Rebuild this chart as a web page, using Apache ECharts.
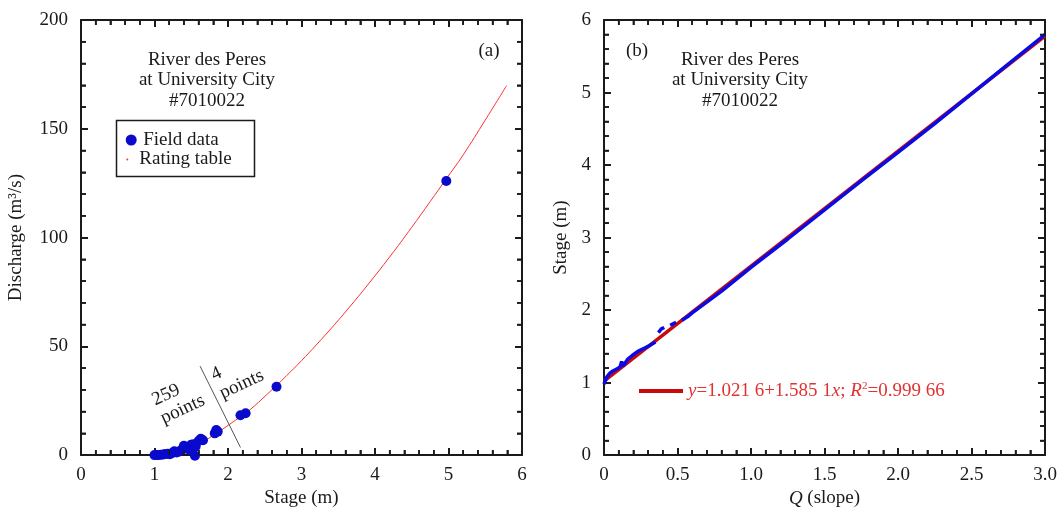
<!DOCTYPE html>
<html>
<head>
<meta charset="utf-8">
<script src="https://cdn.jsdelivr.net/npm/echarts/dist/echarts.min.js"></script>
<style>
  html, body { margin: 0; padding: 0; background: #fff; }
  #chart { width: 1060px; height: 513px; }
</style>
</head>
<body>
<div id="chart"></div>
<script>
// (a) field measurements: stage (m) vs discharge (m3/s)
var fieldStage = [1.00, 1.03, 1.06, 1.09, 1.12, 1.15, 1.18, 1.21, 1.24, 1.27, 1.30, 1.33, 1.36, 1.40, 1.42, 1.45,
                  1.48, 1.50, 1.53, 1.55, 1.56, 1.60, 1.63, 1.66, 1.82, 1.84, 1.86, 2.17, 2.24, 2.66, 4.97];
var fieldQ     = [0.0, 0.0, 0.1, 0.2, 0.3, 0.5, 0.6, 0.4, 1.0, 1.8, 1.2, 1.5, 2.2, 4.3, 3.0, 3.6,
                  2.4, 4.8, 5.0, -0.3, 4.0, 6.5, 7.5, 6.8, 10.0, 11.5, 10.8, 18.3, 19.2, 31.4, 126.0];
// (a) rating table
var ratingStage = [1.00, 1.10, 1.20, 1.30, 1.40, 1.50, 1.60, 1.75, 1.93, 2.10, 2.29, 2.54, 2.80, 3.00,
                   3.20, 3.45, 3.65, 3.90, 4.20, 4.50, 4.75, 4.97, 5.20, 5.50, 5.79];
var ratingQ     = [0.0, -0.3, 0.0, 0.8, 1.9, 3.3, 5.0, 8.0, 12.0, 16.0, 20.6, 28.2, 36.6, 43.4,
                   50.6, 60.0, 67.9, 78.2, 91.1, 104.7, 116.5, 127.0, 138.0, 154.0, 169.8];
// (b) stage vs Q(slope), '-' marks gaps in the trace
var slopeQ     = [0, 0.02, 0.04, 0.06, 0.09, 0.11, 0.12, 0.13, 0.16, 0.19, 0.23, 0.27, 0.31, 0.35, 0.36,
                  0.37, 0.39, 0.41, 0.43, 0.45, 0.47, 0.49, 0.51, 0.53, 0.57, 0.60, 0.80, 1.00, 1.25,
                  1.50, 1.75, 2.00, 2.25, 2.50, 2.75, 3.00];
var slopeStage = [0.98, 1.08, 1.13, 1.16, 1.19, 1.22, 1.29, 1.23, 1.32, 1.37, 1.43, 1.47, 1.51, 1.56, '-',
                  1.69, 1.74, 1.76, '-', 1.79, 1.81, 1.83, '-', 1.86, 1.91, 1.96, 2.26, 2.59, 2.98,
                  3.38, 3.78, 4.175, 4.57, 4.98, 5.39, 5.80];
// (b) fitted line y = 1.0216 + 1.5851x
var fitQ = [0, 3.0];
var fitStage = [1.0216, 5.7769];

var xTicksA = [0, 1, 2, 3, 4, 5, 6];
var yTicksA = [0, 50, 100, 150, 200];
var xTicksB = [0, 0.5, 1.0, 1.5, 2.0, 2.5, 3.0];
var yTicksB = [0, 1, 2, 3, 4, 5, 6];

var FONT = "'Liberation Serif', 'Times New Roman', serif";
var INK = '#1a1a1a';

function pairs(xs, ys) {
  return xs.map(function (x, i) { return [x, ys[i]]; });
}

// framed axis with inward major ticks
function axis(grid, pos, ticks, labels, fmt) {
  return {
    type: 'value',
    gridIndex: grid,
    position: pos,
    min: ticks[0],
    max: ticks[ticks.length - 1],
    interval: ticks[1] - ticks[0],
    splitLine: { show: false },
    axisLine: { show: true, onZero: false, lineStyle: { color: INK, width: 2 } },
    axisTick: { show: true, inside: true, length: 7, lineStyle: { color: INK, width: 2 } },
    minorTick: { show: true, splitNumber: 5, length: 5, lineStyle: { color: INK, width: 1.6 } },
    axisLabel: {
      show: labels,
      fontFamily: FONT, fontSize: 19, color: INK,
      margin: (pos === 'left') ? 13 : 10,
      formatter: fmt
    }
  };
}

function named(a, name, gap) {
  a.name = name;
  a.nameLocation = 'middle';
  a.nameGap = gap;
  a.nameTextStyle = {
    fontFamily: FONT, fontSize: 19, color: INK,
    rich: { i: { fontFamily: FONT, fontSize: 19, fontStyle: 'italic', color: INK } }
  };
  return a;
}

var chart = echarts.init(document.getElementById('chart'));

var titleStyle = { fontFamily: FONT, fontSize: 19, fontWeight: 'normal', color: INK, lineHeight: 20.3 };

var graphics = [
  {
    type: 'rect', shape: { x: 116.5, y: 120.5, width: 138, height: 56 },
    style: { fill: 'none', stroke: INK, lineWidth: 1.5 }, z: 10
  },
  {
    type: 'text', x: 149, y: 392, rotation: 25 * Math.PI / 180,
    style: { text: '259\npoints', font: '19px ' + FONT, fill: INK, textAlign: 'left', textVerticalAlign: 'top', lineHeight: 20 }
  },
  {
    type: 'text', x: 208, y: 367, rotation: 25 * Math.PI / 180,
    style: { text: '4\npoints', font: '19px ' + FONT, fill: INK, textAlign: 'left', textVerticalAlign: 'top', lineHeight: 20 }
  }
];

var option = {
  animation: false,
  backgroundColor: '#fff',
  textStyle: { fontFamily: FONT },
  grid: [
    { left: 81, top: 20, width: 441, height: 441 },
    { left: 604, top: 20, width: 441, height: 441 }
  ],
  title: [
    { text: 'River des Peres\nat University City\n#7010022', left: 202, top: 45, textAlign: 'center', textStyle: titleStyle },
    { text: 'River des Peres\nat University City\n#7010022', left: 735, top: 45, textAlign: 'center', textStyle: titleStyle },
    { text: '(a)', left: 484, top: 36, textAlign: 'center', textStyle: titleStyle },
    { text: '(b)', left: 632, top: 36, textAlign: 'center', textStyle: titleStyle }
  ],
  legend: [
    {
      data: ['Field data'], icon: 'circle', itemWidth: 14, itemHeight: 11,
      left: 125.7, top: 130.5, padding: 0,
      textStyle: { fontFamily: FONT, fontSize: 19, color: INK, lineHeight: 19 }
    },
    {
      data: ['Rating table'], icon: 'circle', itemWidth: 14, itemHeight: 2,
      left: 126.3, top: 150, padding: 0,
      textStyle: { fontFamily: FONT, fontSize: 19, color: INK, lineHeight: 19 }
    },
    {
      data: ['fit'], icon: 'rect', itemWidth: 44, itemHeight: 4,
      left: 639, top: 381, padding: 0,
      formatter: function () {
        return '{i|y}{n|=1.021 6+1.585 1}{i|x}{n|; }{i|R}{s|2}{n|=0.999 66}';
      },
      textStyle: {
        fontFamily: FONT, fontSize: 19, color: '#e03232', lineHeight: 20,
        rich: {
          i: { fontFamily: FONT, fontSize: 19, fontStyle: 'italic', color: '#e03232' },
          n: { fontFamily: FONT, fontSize: 19, color: '#e03232' },
          s: { fontFamily: FONT, fontSize: 11, color: '#e03232', verticalAlign: 'top', lineHeight: 12, padding: [0, 0, 8, 0] }
        }
      }
    }
  ],
  xAxis: [
    named(axis(0, 'bottom', xTicksA, true), 'Stage (m)', 29),
    axis(0, 'top', xTicksA, false),
    named(axis(1, 'bottom', xTicksB, true, function (v) { return v === 0 ? '0' : v.toFixed(1); }), '{i|Q} (slope)', 29),
    axis(1, 'top', xTicksB, false)
  ],
  yAxis: [
    named(axis(0, 'left', yTicksA, true), 'Discharge (m³/s)', 55),
    axis(0, 'right', yTicksA, false),
    named(axis(1, 'left', yTicksB, true), 'Stage (m)', 33),
    axis(1, 'right', yTicksB, false)
  ],
  series: [
    {
      name: 'Rating table', type: 'line', xAxisIndex: 0, yAxisIndex: 0,
      data: pairs(ratingStage, ratingQ), smooth: 0.4, showSymbol: false,
      color: '#ff3030', lineStyle: { color: '#ff3030', width: 1 }, z: 2,
      markLine: {
        silent: true, symbol: 'none', label: { show: false },
        lineStyle: { color: '#555', width: 1, type: 'solid' },
        data: [[{ coord: [1.62, 40.9] }, { coord: [2.17, 3.5] }]]
      }
    },
    {
      name: 'Field data', type: 'scatter', xAxisIndex: 0, yAxisIndex: 0,
      data: pairs(fieldStage, fieldQ), symbolSize: 10, clip: false,
      itemStyle: { color: '#0a0acd', opacity: 1 }, z: 3
    },
    {
      name: 'fit', type: 'line', xAxisIndex: 2, yAxisIndex: 2,
      data: pairs(fitQ, fitStage), showSymbol: false,
      color: '#c80a0a', lineStyle: { color: '#c80a0a', width: 3.5 }, z: 2
    },
    {
      name: 'Field trace', type: 'line', xAxisIndex: 2, yAxisIndex: 2,
      data: pairs(slopeQ, slopeStage), showSymbol: false, connectNulls: false,
      lineStyle: { color: '#0a0ae6', width: 3.5 }, z: 3
    }
  ],
  graphic: graphics
};

chart.setOption(option);

// minor ticks on all four sides, placed through the axes' own scales
function minorTickLines(axisIdx, xTicks, yTicks) {
  var out = [], L = 5;
  var st = { stroke: INK, lineWidth: 1.6 };
  var yb = chart.convertToPixel({ yAxisIndex: axisIdx }, yTicks[0]);
  var yt = chart.convertToPixel({ yAxisIndex: axisIdx }, yTicks[yTicks.length - 1]);
  var xl = chart.convertToPixel({ xAxisIndex: axisIdx }, xTicks[0]);
  var xr = chart.convertToPixel({ xAxisIndex: axisIdx }, xTicks[xTicks.length - 1]);
  function each(ticks, fn) {
    var step = (ticks[1] - ticks[0]) / 5, n = (ticks.length - 1) * 5;
    for (var i = 1; i < n; i++) if (i % 5) fn(ticks[0] + i * step);
  }
  each(xTicks, function (v) {
    var p = chart.convertToPixel({ xAxisIndex: axisIdx }, v);
    out.push({ type: 'line', shape: { x1: p, y1: yb, x2: p, y2: yb - L }, style: st, z: 20 });
    out.push({ type: 'line', shape: { x1: p, y1: yt, x2: p, y2: yt + L }, style: st, z: 20 });
  });
  each(yTicks, function (v) {
    var p = chart.convertToPixel({ yAxisIndex: axisIdx }, v);
    out.push({ type: 'line', shape: { x1: xl, y1: p, x2: xl + L, y2: p }, style: st, z: 20 });
    out.push({ type: 'line', shape: { x1: xr, y1: p, x2: xr - L, y2: p }, style: st, z: 20 });
  });
  return out;
}

chart.setOption({
  graphic: graphics.concat(minorTickLines(0, xTicksA, yTicksA), minorTickLines(2, xTicksB, yTicksB))
});
</script>
</body>
</html>
